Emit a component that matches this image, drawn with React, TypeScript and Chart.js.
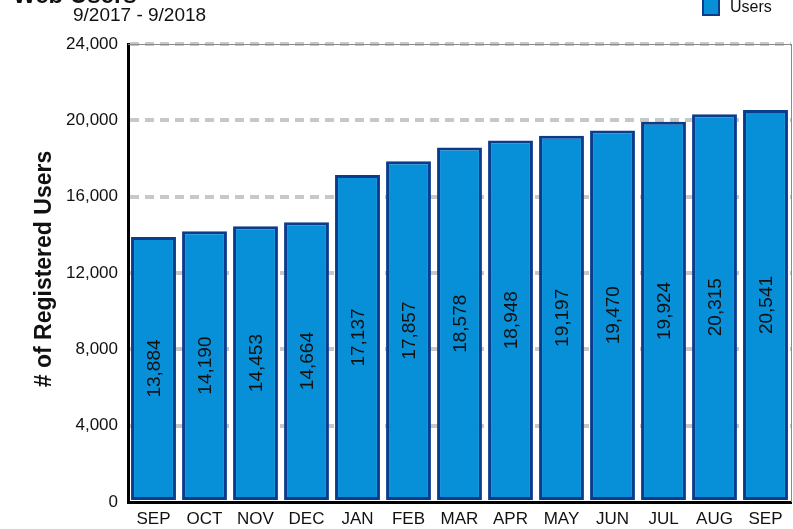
import { useEffect, useRef } from "react";
import { Chart, registerables } from "chart.js";

Chart.register(...registerables);

const months = ["SEP", "OCT", "NOV", "DEC", "JAN", "FEB", "MAR", "APR", "MAY", "JUN", "JUL", "AUG", "SEP"];
const users = [13884, 14190, 14453, 14664, 17137, 17857, 18578, 18948, 19197, 19470, 19924, 20315, 20541];
const yMin = 0;
const yMax = 24000;
const yStep = 4000;
const titleText = "Web Users";
const subtitleText = "9/2017 - 9/2018";
const yTitleText = "# of Registered Users";
const legendText = "Users";

const FONT = "'Liberation Sans', Arial, sans-serif";
const BAR_FILL = "#0790d8";
const BAR_BORDER = "#0b3c8c";

const fmt = (v: number) => v.toLocaleString("en-US");

const decorPlugin = {
  id: "decor",
  beforeDatasetsDraw(chart: any) {
    const { ctx, chartArea } = chart;
    ctx.save();
    ctx.strokeStyle = "#8a8a8a";
    ctx.lineWidth = 1;
    ctx.beginPath();
    ctx.moveTo(chartArea.left, chartArea.top + 0.5);
    ctx.lineTo(chartArea.right, chartArea.top + 0.5);
    ctx.moveTo(chartArea.right + 0.5, chartArea.top);
    ctx.lineTo(chartArea.right + 0.5, chartArea.bottom);
    ctx.stroke();
    ctx.restore();
  },
  afterDatasetsDraw(chart: any) {
    const { ctx } = chart;
    const meta = chart.getDatasetMeta(0);
    ctx.save();
    ctx.fillStyle = "#111";
    ctx.font = `19px ${FONT}`;
    ctx.textAlign = "center";
    ctx.textBaseline = "middle";
    meta.data.forEach((bar: any, i: number) => {
      const cy = (bar.y + bar.base) / 2;
      ctx.save();
      ctx.translate(bar.x, cy);
      ctx.rotate(-Math.PI / 2);
      ctx.fillText(fmt(users[i]), 0, 1);
      ctx.restore();
    });
    ctx.restore();
  },
  afterDraw(chart: any) {
    const { ctx } = chart;
    ctx.save();
    ctx.fillStyle = "#111";
    ctx.textBaseline = "alphabetic";
    ctx.textAlign = "left";
    ctx.font = `bold 24px ${FONT}`;
    ctx.fillText(titleText, 13, 3);
    ctx.font = `19px ${FONT}`;
    ctx.fillText(subtitleText, 73, 21);
    ctx.save();
    ctx.translate(45, 269);
    ctx.rotate(-Math.PI / 2);
    ctx.textAlign = "center";
    ctx.textBaseline = "middle";
    ctx.font = `bold 23px ${FONT}`;
    ctx.fillText(yTitleText, 0, 0);
    ctx.restore();
    ctx.fillStyle = BAR_FILL;
    ctx.fillRect(702, -2, 18, 18);
    ctx.strokeStyle = BAR_BORDER;
    ctx.lineWidth = 2;
    ctx.strokeRect(703, -1, 16, 16);
    ctx.fillStyle = "#111";
    ctx.font = `16px ${FONT}`;
    ctx.textAlign = "left";
    ctx.textBaseline = "middle";
    ctx.fillText(legendText, 730, 8);
    ctx.restore();
  },
};

export default function App() {
  const ref = useRef<HTMLCanvasElement | null>(null);
  useEffect(() => {
    if (!ref.current) return;
    const chart = new Chart(ref.current, {
      type: "bar",
      data: {
        labels: months,
        datasets: [
          {
            label: legendText,
            data: users,
            backgroundColor: BAR_FILL,
            borderColor: BAR_BORDER,
            borderWidth: 3,
            borderSkipped: false,
            barPercentage: 0.88,
            categoryPercentage: 1,
          },
        ],
      },
      options: {
        responsive: false,
        animation: false,
        layout: { padding: { top: 44, right: 2, left: 0, bottom: 0 } },
        plugins: {
          legend: { display: false },
          title: { display: false },
          tooltip: { enabled: false },
        },
        scales: {
          x: {
            grid: { display: false, drawTicks: false },
            border: { display: true, color: "#000", width: 3 },
            ticks: { color: "#111", font: { family: FONT, size: 17 }, padding: 7, maxRotation: 0, autoSkip: false },
            afterFit: (s: any) => {
              s.height = 27;
            },
          },
          y: {
            min: yMin,
            max: yMax,
            grid: {
              drawTicks: false,
              lineWidth: 4,
              color: (c: any) => (c.tick && c.tick.value === 0 ? "rgba(0,0,0,0)" : "#c8c8c8"),
            },
            border: { display: true, color: "#000", width: 3, dash: [9, 6] },
            ticks: {
              stepSize: yStep,
              color: "#111",
              font: { family: FONT, size: 17 },
              padding: 10,
              callback: (v: any) => fmt(Number(v)),
            },
            afterFit: (s: any) => {
              s.width = 128;
            },
          },
        },
      },
      plugins: [decorPlugin],
    });
    return () => chart.destroy();
  }, []);
  return (
    <div style={{ position: "fixed", left: 0, top: 0, width: 793, height: 529, background: "#fff" }}>
      <canvas ref={ref} width={793} height={529} style={{ display: "block" }} />
    </div>
  );
}
